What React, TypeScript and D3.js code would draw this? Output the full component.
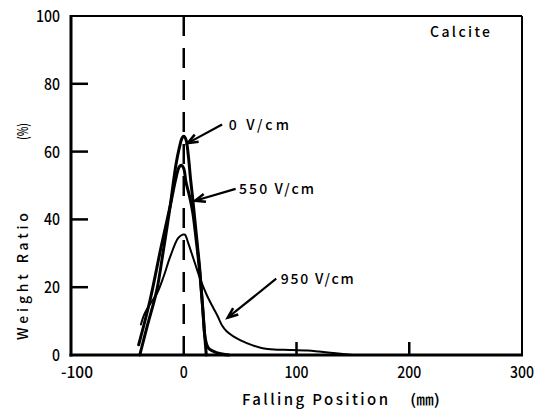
import React from "react";
import * as d3 from "d3";

const xTicks = [-100, 0, 100, 200, 300];
const yTicks = [0, 20, 40, 60, 80, 100];
const innerXTicks = [100, 200];
const innerYTicks = [20, 40, 60, 80];

const seriesNames = ["0 V/cm", "550 V/cm", "950 V/cm"];
const v0: [number, number][] = [
  [-39, 0], [-32, 9], [-24, 19], [-18, 31], [-12, 44], [-7, 56], [-4, 61], [-1.5, 64], [0, 64.5],
  [2, 63.5], [4, 59], [6, 52], [8, 46], [11, 36], [14, 26], [17, 13], [19, 4], [20, 0],
];
const v550: [number, number][] = [
  [-40, 3], [-30, 16], [-20, 32], [-12, 44], [-7, 52], [-4, 55.5], [-2, 56], [0, 55],
  [2, 51], [5, 47], [8, 42], [11, 34], [14, 25], [17, 13], [19, 5], [22, 2], [30, 0.6], [40, 0],
];
const v950: [number, number][] = [
  [-38, 9], [-35, 12], [-30, 15], [-24, 18], [-18, 23], [-12, 29], [-5, 34.5], [-1, 35.5], [1, 35.5],
  [4, 33], [7, 30], [10, 27], [14, 23], [20, 18], [26, 14], [30, 11.5], [34, 8.7], [38, 7],
  [44, 5.5], [50, 4.4], [60, 3], [70, 2], [80, 1.6], [94, 1.5], [110, 1.3], [120, 1], [135, 0.5], [150, 0],
];
// annotation: label anchor [x, y] in data units, arrow start and tip in data units
const labelPos: [number, number][] = [[40, 66.5], [49, 47.5], [86, 21]];
const arrowStart: [number, number][] = [[34, 68], [46, 49], [82, 22.5]];
const arrowTip: [number, number][] = [[3.5, 62.5], [10, 45.5], [39, 11]];

const FONT = "'Noto Sans CJK JP', 'DejaVu Sans', sans-serif";

export default function App() {
  const x = d3.scaleLinear().domain([-100, 300]).range([71, 522]);
  const y = d3.scaleLinear().domain([0, 100]).range([355, 16]);
  const line = d3
    .line<[number, number]>()
    .x((d) => x(d[0]))
    .y((d) => y(d[1]))
    .curve(d3.curveCatmullRom.alpha(0.5));

  const series = [
    { name: seriesNames[0], data: v0, w: 3 },
    { name: seriesNames[1], data: v550, w: 3 },
    { name: seriesNames[2], data: v950, w: 2 },
  ];

  const arrowHead = (sx: number, sy: number, tx: number, ty: number) => {
    const ang = Math.atan2(ty - sy, tx - sx);
    const L = 11;
    const a = 0.38;
    const p1 = [tx - L * Math.cos(ang - a), ty - L * Math.sin(ang - a)];
    const p2 = [tx - L * Math.cos(ang + a), ty - L * Math.sin(ang + a)];
    return `M${p1[0]},${p1[1]} L${tx},${ty} L${p2[0]},${p2[1]}`;
  };

  const labelWidths = [60, 75, 73];

  return (
    <svg
      width={541}
      height={412}
      style={{ position: "absolute", left: 0, top: 0, background: "#fff" }}
      fontFamily={FONT}
      fontWeight={500}
    >
      {/* frame */}
      <line x1={x(-100)} x2={x(300)} y1={y(100)} y2={y(100)} stroke="#000" strokeWidth={2} />
      <line x1={x(300)} x2={x(300)} y1={y(100)} y2={y(0)} stroke="#000" strokeWidth={2} />
      <line x1={x(-100)} x2={x(-100)} y1={y(100) - 1} y2={y(0) + 1.5} stroke="#000" strokeWidth={3} />
      <line x1={x(-100) - 1.5} x2={x(300) + 1} y1={y(0)} y2={y(0)} stroke="#000" strokeWidth={3} />

      {innerYTicks.map((t) => (
        <line key={"yt" + t} x1={x(-100)} x2={x(-100) + 17} y1={y(t)} y2={y(t)} stroke="#000" strokeWidth={2.5} />
      ))}
      {innerXTicks.map((t) => (
        <line key={"xt" + t} x1={x(t)} x2={x(t)} y1={y(0)} y2={y(0) - 13} stroke="#000" strokeWidth={2.5} />
      ))}

      {/* dashed line at 0 */}
      <line x1={x(0)} x2={x(0)} y1={y(100)} y2={y(0)} stroke="#000" strokeWidth={2.5} strokeDasharray="20,12" />

      {yTicks.map((t) => {
        const s = String(t);
        return (
          <text key={"yl" + t} x={60} y={y(t) + 6} textAnchor="end" fontSize={16}
            textLength={s.length * 8} lengthAdjust="spacingAndGlyphs">{s}</text>
        );
      })}
      {xTicks.map((t) => {
        const s = String(t);
        const w = s.length * 8;
        return (
          <text key={"xl" + t} x={Math.max(x(t) - w / 2, 61)} y={378} fontSize={16}
            textLength={w} lengthAdjust="spacingAndGlyphs">{s}</text>
        );
      })}

      <text x={242} y={405} fontSize={15} textLength={146} lengthAdjust="spacing">Falling Position</text>
      <text x={410} y={405} fontSize={15} textLength={30} lengthAdjust="spacingAndGlyphs">(㎜)</text>

      <g transform="translate(28,340) rotate(-90)">
        <text x={0} y={0} fontSize={14} textLength={127} lengthAdjust="spacing">Weight Ratio</text>
        <text x={200} y={0} fontSize={14} textLength={17} lengthAdjust="spacingAndGlyphs">(%)</text>
      </g>

      <text x={430} y={37} fontSize={14} textLength={60} lengthAdjust="spacing">Calcite</text>

      {series.map((s) => (
        <path key={s.name} d={line(s.data) || ""} fill="none" stroke="#000" strokeWidth={s.w}
          strokeLinejoin="round" strokeLinecap="round" />
      ))}

      {series.map((s, i) => {
        const sx = x(arrowStart[i][0]);
        const sy = y(arrowStart[i][1]);
        const tx = x(arrowTip[i][0]);
        const ty = y(arrowTip[i][1]);
        return (
          <g key={"ann" + i}>
            <line x1={sx} y1={sy} x2={tx} y2={ty} stroke="#000" strokeWidth={2.2} />
            <path d={arrowHead(sx, sy, tx, ty)} fill="none" stroke="#000" strokeWidth={2.5} />
            <text x={x(labelPos[i][0])} y={y(labelPos[i][1])} fontSize={14}
              textLength={labelWidths[i]} lengthAdjust="spacing">{s.name}</text>
          </g>
        );
      })}
    </svg>
  );
}
